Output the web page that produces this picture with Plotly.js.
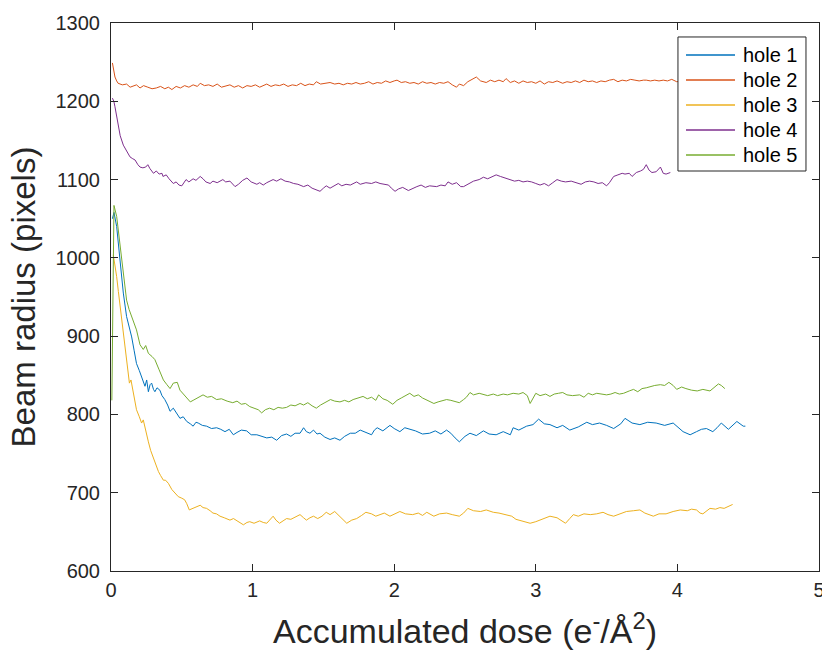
<!DOCTYPE html>
<html>
<head>
<meta charset="utf-8">
<script src="https://cdn.plot.ly/plotly-3.0.1.min.js"></script>
<style>html,body{margin:0;padding:0;background:#fff;}#chart{width:822px;height:654px;}</style>
</head>
<body>
<div id="chart"></div>
<script>
// Series names and colors
const seriesNames = ["hole 1", "hole 2", "hole 3", "hole 4", "hole 5"];
const seriesColors = ["#0072BD", "#D95319", "#EDB120", "#7E2F8E", "#77AC30"];
const xTickVals = [0, 1, 2, 3, 4, 5];
const yTickVals = [600, 700, 800, 900, 1000, 1100, 1200, 1300];

// [accumulated dose, beam radius] pairs
const hole1 = [[0.01,1050],[0.021,1058],[0.04,1040],[0.064,993],[0.087,955],[0.11,925],[0.13,910],[0.146,899],[0.163,882],[0.18,865],[0.2,856],[0.216,848],[0.24,836],[0.252,844],[0.264,829],[0.276,838],[0.287,840],[0.3,832],[0.31,829],[0.325,834],[0.345,831],[0.36,824],[0.38,819],[0.4,812],[0.417,804],[0.44,808],[0.464,802],[0.487,795],[0.51,797],[0.535,791],[0.56,788],[0.58,785],[0.6,790],[0.616,789],[0.645,786],[0.675,785],[0.71,782],[0.746,783],[0.775,781],[0.805,778],[0.835,781],[0.864,774],[0.89,777],[0.92,780],[0.958,779],[0.99,774],[1.03,774],[1.065,772],[1.1,770],[1.135,771],[1.17,767],[1.205,773],[1.24,775],[1.27,772],[1.3,776],[1.335,776],[1.36,783],[1.38,778],[1.405,776],[1.43,780],[1.455,775],[1.476,776],[1.51,771],[1.547,768],[1.58,770],[1.617,767],[1.65,772],[1.69,776],[1.725,776],[1.76,780],[1.8,777],[1.84,774],[1.86,780],[1.88,783],[1.92,779],[1.97,786],[2.0,782],[2.04,778],[2.075,783],[2.11,781],[2.15,779],[2.2,775],[2.25,776],[2.29,779],[2.33,775],[2.37,780],[2.4,776],[2.43,770],[2.46,765],[2.5,772],[2.535,776],[2.58,773],[2.63,779],[2.67,775],[2.72,774],[2.77,778],[2.82,774],[2.84,783],[2.88,780],[2.935,785],[2.98,787],[3.02,794],[3.06,788],[3.1,787],[3.15,783],[3.19,786],[3.24,780],[3.3,784],[3.36,790],[3.4,787],[3.45,789],[3.5,786],[3.55,782],[3.6,788],[3.63,795],[3.68,789],[3.735,787],[3.79,790],[3.85,789],[3.91,786],[3.97,789],[4.04,778],[4.09,774],[4.135,778],[4.17,781],[4.205,782],[4.25,778],[4.28,783],[4.31,789],[4.36,781],[4.39,786],[4.42,791],[4.465,785],[4.48,785]];

const hole2 = [[0.01,1249],[0.02,1238],[0.028,1231],[0.04,1226],[0.05,1223],[0.08,1221],[0.11,1222],[0.135,1218],[0.157,1219],[0.18,1221],[0.205,1217],[0.23,1220],[0.26,1218],[0.29,1216],[0.32,1217],[0.35,1219],[0.38,1216],[0.405,1218],[0.43,1215],[0.46,1219],[0.49,1217],[0.52,1220],[0.55,1218],[0.58,1221],[0.61,1219],[0.63,1223],[0.66,1220],[0.69,1221],[0.72,1219],[0.75,1222],[0.78,1218],[0.81,1220],[0.84,1221],[0.87,1218],[0.9,1220],[0.93,1217],[0.96,1220],[0.99,1219],[1.02,1221],[1.05,1218],[1.08,1220],[1.1,1222],[1.13,1219],[1.16,1221],[1.19,1220],[1.22,1222],[1.25,1219],[1.28,1221],[1.31,1220],[1.34,1223],[1.37,1220],[1.4,1222],[1.43,1221],[1.45,1225],[1.48,1222],[1.51,1223],[1.547,1224],[1.58,1222],[1.61,1223],[1.64,1221],[1.67,1223],[1.7,1222],[1.73,1224],[1.76,1222],[1.79,1223],[1.82,1225],[1.85,1222],[1.88,1224],[1.91,1223],[1.94,1226],[1.97,1224],[2.0,1226],[2.02,1227],[2.05,1224],[2.08,1225],[2.11,1223],[2.14,1224],[2.17,1222],[2.2,1225],[2.23,1223],[2.26,1224],[2.29,1222],[2.32,1224],[2.35,1223],[2.38,1225],[2.41,1221],[2.44,1218],[2.46,1222],[2.49,1220],[2.52,1225],[2.55,1228],[2.58,1231],[2.61,1226],[2.65,1224],[2.68,1227],[2.71,1225],[2.74,1227],[2.77,1225],[2.79,1229],[2.82,1224],[2.85,1226],[2.88,1223],[2.91,1226],[2.94,1224],[2.97,1225],[3.0,1223],[3.03,1226],[3.06,1222],[3.09,1225],[3.12,1224],[3.15,1226],[3.19,1223],[3.22,1225],[3.25,1224],[3.28,1226],[3.31,1224],[3.34,1227],[3.37,1225],[3.4,1226],[3.43,1224],[3.46,1226],[3.49,1225],[3.52,1227],[3.55,1228],[3.58,1225],[3.61,1227],[3.64,1226],[3.67,1228],[3.7,1227],[3.73,1226],[3.76,1227],[3.78,1227],[3.81,1226],[3.84,1227],[3.87,1226],[3.9,1227],[3.93,1226],[3.96,1228],[3.995,1225],[4.03,1226],[4.08,1227],[4.13,1226]];

const hole3 = [[0.016,1004],[0.028,992],[0.04,976],[0.052,957],[0.064,938],[0.075,921],[0.087,904],[0.1,886],[0.11,870],[0.12,855],[0.13,840],[0.141,844],[0.157,827],[0.168,816],[0.18,806],[0.2,797],[0.216,789],[0.228,793],[0.245,778],[0.264,765],[0.28,754],[0.3,744],[0.318,735],[0.335,727],[0.35,722],[0.37,716],[0.385,716],[0.405,712],[0.43,704],[0.45,700],[0.475,695],[0.5,693],[0.52,691],[0.535,686],[0.553,678],[0.565,679],[0.58,680],[0.6,682],[0.63,684],[0.65,681],[0.675,680],[0.7,677],[0.72,674],[0.745,673],[0.77,670],[0.8,668],[0.84,665],[0.865,667],[0.89,664],[0.91,662],[0.935,659],[0.96,662],[0.98,663],[1.01,661],[1.05,664],[1.075,662],[1.1,661],[1.12,665],[1.145,670],[1.165,665],[1.19,661],[1.215,664],[1.24,667],[1.27,666],[1.3,669],[1.335,672],[1.36,668],[1.38,665],[1.405,668],[1.43,670],[1.46,667],[1.49,670],[1.52,675],[1.547,672],[1.58,676],[1.617,670],[1.64,666],[1.665,661],[1.7,665],[1.735,667],[1.77,671],[1.8,675],[1.84,673],[1.87,670],[1.9,672],[1.93,674],[1.97,670],[2.0,673],[2.04,676],[2.08,673],[2.13,672],[2.17,674],[2.2,671],[2.23,675],[2.28,670],[2.32,673],[2.37,674],[2.41,672],[2.46,670],[2.49,674],[2.52,680],[2.56,677],[2.61,676],[2.65,678],[2.7,675],[2.74,674],[2.79,672],[2.83,670],[2.86,666],[2.9,664],[2.93,663],[2.96,661],[3.0,663],[3.05,666],[3.1,670],[3.15,668],[3.18,665],[3.21,661],[3.24,667],[3.265,672],[3.3,670],[3.34,673],[3.385,672],[3.43,673],[3.475,675],[3.51,672],[3.55,670],[3.6,673],[3.64,676],[3.69,677],[3.735,678],[3.77,674],[3.8,672],[3.83,670],[3.87,673],[3.92,673],[3.97,676],[4.02,678],[4.07,677],[4.1,679],[4.135,678],[4.16,674],[4.18,673],[4.205,677],[4.23,680],[4.27,679],[4.3,681],[4.33,680],[4.36,683],[4.39,685]];

const hole4 = [[0.01,1204],[0.02,1200],[0.028,1193],[0.04,1180],[0.05,1168],[0.065,1156],[0.087,1144],[0.11,1136],[0.134,1129],[0.15,1127],[0.17,1125],[0.19,1119],[0.205,1116],[0.225,1115],[0.245,1116],[0.26,1119],[0.275,1114],[0.3,1108],[0.32,1111],[0.34,1107],[0.36,1108],[0.367,1104],[0.39,1106],[0.41,1101],[0.44,1095],[0.46,1097],[0.48,1093],[0.5,1092],[0.515,1096],[0.53,1100],[0.55,1097],[0.58,1101],[0.6,1099],[0.63,1104],[0.65,1101],[0.67,1097],[0.7,1095],[0.72,1098],[0.75,1096],[0.79,1100],[0.81,1097],[0.84,1098],[0.876,1091],[0.9,1094],[0.93,1099],[0.96,1102],[0.99,1097],[1.03,1094],[1.05,1096],[1.075,1093],[1.1,1096],[1.145,1100],[1.17,1098],[1.2,1101],[1.23,1098],[1.26,1097],[1.29,1095],[1.32,1094],[1.36,1091],[1.39,1093],[1.42,1089],[1.45,1087],[1.476,1085],[1.5,1089],[1.52,1092],[1.547,1089],[1.57,1091],[1.605,1095],[1.63,1092],[1.66,1094],[1.69,1093],[1.735,1097],[1.76,1094],[1.8,1096],[1.84,1095],[1.87,1097],[1.9,1095],[1.93,1094],[1.96,1093],[1.98,1089],[2.006,1085],[2.03,1088],[2.06,1090],[2.1,1086],[2.13,1089],[2.16,1091],[2.19,1093],[2.22,1090],[2.25,1092],[2.3,1091],[2.33,1093],[2.36,1092],[2.38,1097],[2.41,1094],[2.44,1096],[2.47,1091],[2.49,1091],[2.52,1094],[2.56,1098],[2.6,1100],[2.63,1103],[2.66,1101],[2.69,1103],[2.72,1106],[2.75,1104],[2.78,1102],[2.82,1100],[2.85,1098],[2.88,1099],[2.91,1097],[2.94,1098],[2.97,1097],[3.0,1095],[3.03,1093],[3.06,1095],[3.09,1092],[3.12,1096],[3.15,1100],[3.18,1098],[3.21,1097],[3.25,1098],[3.29,1096],[3.32,1094],[3.35,1097],[3.38,1098],[3.41,1097],[3.44,1095],[3.47,1096],[3.5,1092],[3.52,1096],[3.55,1104],[3.58,1106],[3.61,1108],[3.63,1107],[3.66,1108],[3.68,1104],[3.71,1109],[3.74,1111],[3.76,1113],[3.78,1119],[3.8,1112],[3.82,1109],[3.85,1110],[3.88,1116],[3.9,1108],[3.92,1107],[3.95,1109]];

const hole5 = [[0.006,818],[0.021,1067],[0.04,1053],[0.064,1014],[0.087,980],[0.11,946],[0.128,934],[0.146,925],[0.163,916],[0.18,908],[0.205,889],[0.228,883],[0.245,888],[0.264,878],[0.29,874],[0.31,870],[0.34,857],[0.37,844],[0.395,838],[0.417,833],[0.44,840],[0.468,841],[0.487,831],[0.51,826],[0.535,820],[0.56,816],[0.58,818],[0.61,821],[0.65,825],[0.68,822],[0.71,823],[0.746,819],[0.78,820],[0.82,817],[0.86,815],[0.89,817],[0.92,813],[0.95,814],[0.98,810],[1.01,808],[1.04,806],[1.064,802],[1.09,806],[1.12,808],[1.15,806],[1.18,809],[1.21,808],[1.24,809],[1.27,812],[1.3,811],[1.335,814],[1.36,812],[1.39,815],[1.42,811],[1.45,808],[1.48,812],[1.51,815],[1.55,819],[1.58,817],[1.617,816],[1.65,818],[1.68,816],[1.71,819],[1.74,821],[1.78,823],[1.81,820],[1.84,822],[1.87,818],[1.89,825],[1.92,820],[1.95,818],[1.99,813],[2.02,818],[2.05,821],[2.08,824],[2.11,827],[2.14,823],[2.17,825],[2.2,821],[2.23,818],[2.26,816],[2.28,814],[2.31,816],[2.34,818],[2.37,819],[2.4,818],[2.43,816],[2.46,815],[2.49,819],[2.51,822],[2.535,828],[2.56,825],[2.6,827],[2.63,825],[2.66,824],[2.7,826],[2.73,824],[2.77,826],[2.8,825],[2.84,827],[2.88,826],[2.91,828],[2.94,824],[2.96,814],[2.98,820],[3.0,827],[3.03,824],[3.07,826],[3.1,823],[3.13,826],[3.16,827],[3.19,828],[3.22,825],[3.26,824],[3.31,825],[3.34,822],[3.37,827],[3.4,825],[3.43,827],[3.47,826],[3.5,825],[3.53,826],[3.56,828],[3.59,826],[3.62,827],[3.66,830],[3.69,832],[3.72,829],[3.75,833],[3.78,834],[3.81,836],[3.84,837],[3.88,838],[3.91,837],[3.94,841],[3.97,837],[3.995,832],[4.03,835],[4.06,833],[4.1,831],[4.14,830],[4.18,832],[4.23,830],[4.26,834],[4.29,839],[4.31,837],[4.335,833]];

const allSeries = [hole1, hole2, hole3, hole4, hole5];

const traces = allSeries.map((s, i) => ({
  type: "scatter",
  mode: "lines",
  name: seriesNames[i],
  x: s.map(p => p[0]),
  y: s.map(p => p[1]),
  line: {color: seriesColors[i], width: 1},
  showlegend: false
}));

// Legend drawn as a boxed key in paper coordinates (MATLAB-style)
const legBox = {x0: 0.8008, x1: 0.9816, y0: 0.7299, y1: 0.9745};
const legRowY = [0.9416, 0.8960, 0.8504, 0.8047, 0.7591];
const legLineX = [0.8121, 0.8814];
const legTextX = 0.8898;

const shapes = [{
  type: "rect", xref: "paper", yref: "paper",
  x0: legBox.x0, x1: legBox.x1, y0: legBox.y0, y1: legBox.y1,
  fillcolor: "#ffffff", line: {color: "#262626", width: 1}, layer: "above"
}].concat(seriesNames.map((n, i) => ({
  type: "line", xref: "paper", yref: "paper",
  x0: legLineX[0], x1: legLineX[1], y0: legRowY[i], y1: legRowY[i],
  line: {color: seriesColors[i], width: 1.5}, layer: "above"
})));

const annotations = seriesNames.map((n, i) => ({
  xref: "paper", yref: "paper", x: legTextX, y: legRowY[i],
  xanchor: "left", yanchor: "middle", text: n, showarrow: false,
  font: {size: 20, color: "#000000"}
}));

const axisCommon = {
  showline: true,
  linecolor: "#262626",
  linewidth: 1,
  mirror: "ticks",
  ticks: "inside",
  ticklen: 7,
  tickcolor: "#262626",
  showgrid: false,
  zeroline: false,
  tickfont: {size: 20, color: "#262626"},
  ticklabeloverflow: "allow",
  automargin: false
};

const layout = {
  width: 822,
  height: 654,
  margin: {l: 111, r: 3, t: 23, b: 83},
  paper_bgcolor: "#ffffff",
  plot_bgcolor: "#ffffff",
  font: {family: "Liberation Sans, Arial, Helvetica, sans-serif", color: "#262626"},
  showlegend: false,
  xaxis: Object.assign({}, axisCommon, {
    range: [0, 5],
    tickvals: xTickVals,
    ticktext: xTickVals.map(String),
    ticklabelstandoff: 1,
    title: {text: "Accumulated dose (e<sup>-</sup>/Å<sup>2</sup>)", font: {size: 34, color: "#262626"}, standoff: 19}
  }),
  yaxis: Object.assign({}, axisCommon, {
    range: [600, 1300],
    tickvals: yTickVals,
    ticktext: yTickVals.map(String),
    ticklabelstandoff: 6,
    title: {text: "Beam radius (pixels)", font: {size: 33, color: "#262626"}, standoff: 9}
  }),
  shapes: shapes,
  annotations: annotations
};

Plotly.newPlot("chart", traces, layout, {displayModeBar: false, staticPlot: true});
</script>
</body>
</html>
